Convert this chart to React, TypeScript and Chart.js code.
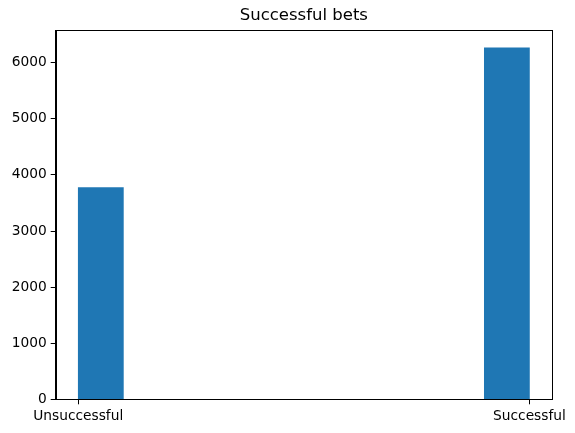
import React, { useEffect, useRef } from "react";
import { Chart, registerables } from "chart.js";

Chart.register(...registerables);

const title = "Successful bets";
const binCenters = [0.05, 0.15, 0.25, 0.35, 0.45, 0.55, 0.65, 0.75, 0.85, 0.95];
const binCounts = [3775, 0, 0, 0, 0, 0, 0, 0, 0, 6265];
const xTickValues = [0, 1];
const xTickLabels = ["Unsuccessful", "Successful"];
const yTickValues = [0, 1000, 2000, 3000, 4000, 5000, 6000];

const FONT = "'DejaVu Sans', sans-serif";

const framePlugin = {
  id: "frame",
  afterDraw(chart: any) {
    const { ctx, chartArea } = chart;
    ctx.save();
    ctx.strokeStyle = "#000";
    ctx.lineWidth = 1;
    ctx.strokeRect(
      Math.round(chartArea.left) + 0.5,
      Math.round(chartArea.top) + 0.5,
      Math.round(chartArea.right - chartArea.left),
      Math.round(chartArea.bottom - chartArea.top)
    );
    ctx.restore();
  },
};

export default function App() {
  const ref = useRef<HTMLCanvasElement>(null);
  useEffect(() => {
    const canvas = ref.current!;
    const chart = new Chart(canvas, {
      type: "bar",
      data: {
        datasets: [
          {
            data: binCenters.map((x, i) => ({ x, y: binCounts[i] })),
            backgroundColor: "#1f77b4",
            borderWidth: 0,
            barPercentage: 1,
            categoryPercentage: 1,
          },
        ],
      },
      options: {
        animation: false,
        responsive: false,
        devicePixelRatio: 1,
        layout: { padding: { left: 0, right: 23, top: 0, bottom: 0 } },
        plugins: {
          legend: { display: false },
          tooltip: { enabled: false },
          title: {
            display: true,
            text: title,
            fullSize: false,
            color: "#000",
            font: { family: FONT, size: 16.5, weight: "normal", lineHeight: 1.2 },
            padding: { top: 6, bottom: 4.5 },
          },
        },
        scales: {
          x: {
            type: "linear",
            min: -0.05,
            max: 1.05,
            offset: false,
            grid: {
              offset: false,
              drawOnChartArea: false,
              drawTicks: true,
              tickLength: 5,
              color: "#000",
            },
            border: { display: true, color: "#000" },
            afterBuildTicks: (scale: any) => {
              scale.ticks = xTickValues.map((v) => ({ value: v }));
            },
            ticks: {
              color: "#000",
              font: { family: FONT, size: 13.75 },
              padding: 4,
              maxRotation: 0,
              autoSkip: false,
              callback: (v: any) => xTickLabels[xTickValues.indexOf(Number(v))] ?? "",
            },
            afterFit: (scale: any) => {
              scale.height = 33.7;
              scale.paddingLeft = 0;
              scale.paddingRight = 0;
            },
          },
          y: {
            type: "linear",
            min: 0,
            max: 6578,
            grid: {
              drawOnChartArea: false,
              drawTicks: true,
              tickLength: 5,
              color: "#000",
            },
            border: { display: true, color: "#000" },
            afterBuildTicks: (scale: any) => {
              scale.ticks = yTickValues.map((v) => ({ value: v }));
            },
            ticks: {
              color: "#000",
              font: { family: FONT, size: 13.75 },
              padding: 4,
              autoSkip: false,
              callback: (v: any) => String(v),
            },
            afterFit: (scale: any) => {
              scale.width = 55.7;
              scale.paddingTop = 0;
              scale.paddingBottom = 0;
            },
          },
        },
      },
      plugins: [framePlugin],
    } as any);
    return () => chart.destroy();
  }, []);
  return (
    <div style={{ position: "fixed", left: 0, top: 0, width: 575, height: 433, background: "#fff" }}>
      <canvas ref={ref} width={575} height={433} style={{ width: 575, height: 433 }} />
    </div>
  );
}
